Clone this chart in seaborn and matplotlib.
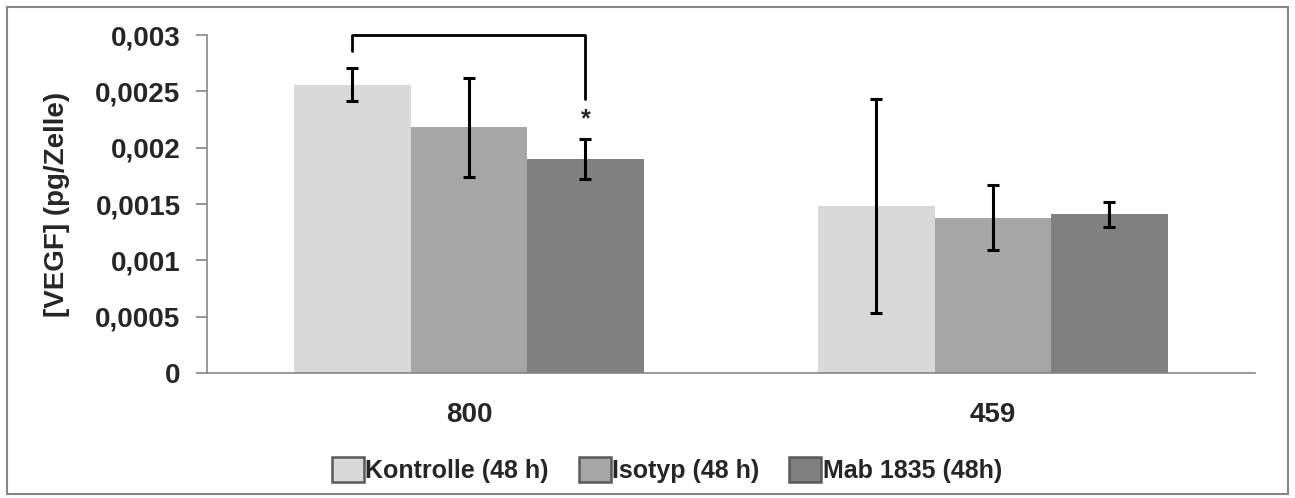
import pandas as pd
import numpy as np
import matplotlib.pyplot as plt
import seaborn as sns
from matplotlib.patches import Rectangle

# data
zelllinien = ["800", "459"]
gruppen = ["Kontrolle (48 h)", "Isotyp (48 h)", "Mab 1835 (48h)"]
mittelwerte = {
    "Kontrolle (48 h)": [0.00256, 0.00148],
    "Isotyp (48 h)": [0.00218, 0.00138],
    "Mab 1835 (48h)": [0.00190, 0.00141],
}
fehler = {
    "Kontrolle (48 h)": [0.00015, 0.00095],
    "Isotyp (48 h)": [0.00044, 0.00029],
    "Mab 1835 (48h)": [0.00018, 0.00011],
}
farben = ["#D9D9D9", "#A6A6A6", "#808080"]
y_ticks = [0, 0.0005, 0.001, 0.0015, 0.002, 0.0025, 0.003]
y_ticklabels = ["0", "0,0005", "0,001", "0,0015", "0,002", "0,0025", "0,003"]

rows = []
for g in gruppen:
    for i, z in enumerate(zelllinien):
        rows.append({"Zelllinie": z, "Gruppe": g, "VEGF": mittelwerte[g][i]})
df = pd.DataFrame(rows)

sns.set_style("white")
plt.rcParams["font.family"] = ["Liberation Sans", "DejaVu Sans"]
plt.rcParams["font.weight"] = "bold"

fs = 20

fig = plt.figure(figsize=(12.95, 4.98), dpi=100)
ax = fig.add_axes([0.1598, 0.251, 0.8093, 0.6787])

sns.barplot(data=df, x="Zelllinie", y="VEGF", hue="Gruppe", order=zelllinien,
            hue_order=gruppen, palette=farben, width=0.667, errorbar=None,
            saturation=1, legend=False, linewidth=0, ax=ax)

# error bars at the bar centres
bar_centres = {}
for cont, g in zip(ax.containers, gruppen):
    xs = [p.get_x() + p.get_width() / 2 for p in cont.patches]
    hs = [p.get_height() for p in cont.patches]
    bar_centres[g] = xs
    ax.errorbar(xs, hs, yerr=fehler[g], fmt="none", ecolor="black",
                elinewidth=2.2, capsize=4.5, capthick=2.2, zorder=5)

# significance bracket 800: Kontrolle vs Mab 1835
x1 = bar_centres[gruppen[0]][0]
x2 = bar_centres[gruppen[2]][0]
ax.plot([x1, x1, x2, x2], [0.00286, 0.00300, 0.00300, 0.00243],
        color="black", lw=2.0, clip_on=False, zorder=6)
ax.text(x2, 0.00225, "*", ha="center", va="center", fontsize=18, fontweight="bold")

ax.set_xlim(-0.5, 1.5)
ax.set_ylim(0, 0.003)
ax.set_yticks(y_ticks)
ax.set_yticklabels(y_ticklabels, fontsize=fs, fontweight="bold")
ax.set_ylabel("[VEGF] (pg/Zelle)", fontsize=fs, fontweight="bold", labelpad=18)
ax.set_xlabel("")
ax.set_xticks([0, 1])
ax.set_xticklabels(zelllinien, fontsize=fs, fontweight="bold")
ax.set_xticks([-0.5, 0.5, 1.5], minor=True)
ax.tick_params(axis="x", which="major", length=0, pad=21)
ax.tick_params(axis="x", which="minor", length=8, color="#868686", width=1.2, direction="out")
ax.tick_params(axis="y", length=8, color="#868686", width=1.2, direction="out", left=True, pad=11)

for side in ["top", "right"]:
    ax.spines[side].set_visible(False)
for side in ["left", "bottom"]:
    ax.spines[side].set_color("#868686")
    ax.spines[side].set_linewidth(1.2)

handles = [Rectangle((0, 0), 1, 1, facecolor=c, edgecolor="#595959", lw=1.8) for c in farben]
fig.legend(handles, gruppen, loc="center", bbox_to_anchor=(0.515, 0.056), ncol=3,
           frameon=False, prop={"size": 18, "weight": "bold"},
           handlelength=1.28, handleheight=1.15, handletextpad=0.05, columnspacing=1.2)

# chart area border
fig.patches.append(Rectangle((7 / 1295, 4 / 498), 1281 / 1295, 487 / 498,
                             transform=fig.transFigure, fill=False,
                             edgecolor="#868686", lw=1.5))

fig.savefig("out.png", dpi=100)
